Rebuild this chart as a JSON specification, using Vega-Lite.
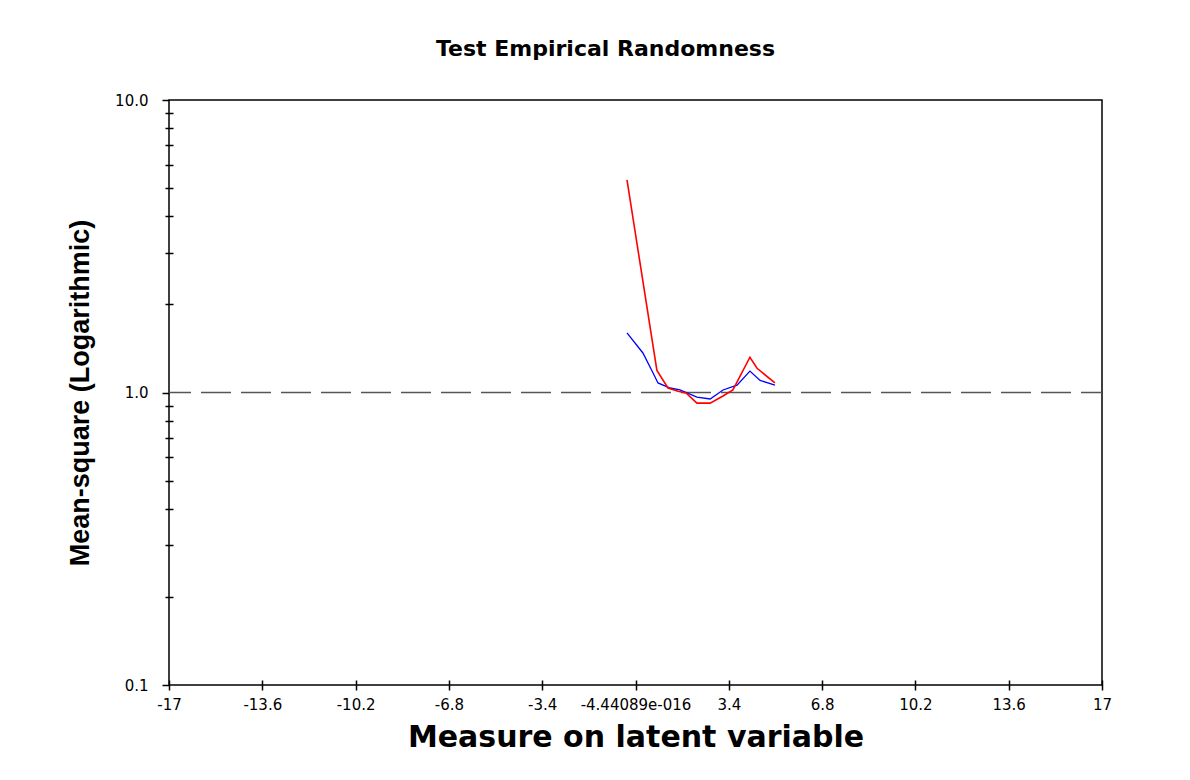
{
  "$schema": "https://vega.github.io/schema/vega-lite/v6.json",
  "width": 933,
  "height": 585,
  "autosize": {"type": "none"},
  "padding": {"left": 169, "top": 100, "right": 88, "bottom": 95},
  "background": "white",
  "title": {
    "text": "Test Empirical Randomness",
    "font": "DejaVu Sans",
    "fontSize": 22,
    "fontWeight": "bold",
    "color": "#000000",
    "anchor": "middle",
    "dx": -30,
    "offset": 15,
    "baseline": "alphabetic"
  },
  "config": {
    "view": {"stroke": "#000000", "strokeWidth": 1.5},
    "axis": {
      "labelFont": "DejaVu Sans",
      "labelFontSize": 15,
      "labelColor": "#000000",
      "tickColor": "#000000",
      "tickWidth": 1.5,
      "domain": false,
      "grid": false,
      "titleColor": "#000000",
      "labelOverlap": false,
      "labelBound": false,
      "labelFlush": false
    },
    "axisX": {
      "offset": -5,
      "tickSize": 10,
      "labelPadding": 7,
      "titleFont": "DejaVu Sans",
      "titleFontSize": 30,
      "titleFontWeight": "bold",
      "titlePadding": 10
    }
  },
  "datasets": {
    "ref": [{"ms": 1}],
    "curves": [
      {"series": "blue", "measure": -0.31, "ms": 1.60},
      {"series": "blue", "measure": 0.27, "ms": 1.365},
      {"series": "blue", "measure": 0.64, "ms": 1.166},
      {"series": "blue", "measure": 0.82, "ms": 1.078},
      {"series": "blue", "measure": 1.26, "ms": 1.036},
      {"series": "blue", "measure": 1.62, "ms": 1.02},
      {"series": "blue", "measure": 2.24, "ms": 0.965},
      {"series": "blue", "measure": 2.72, "ms": 0.95},
      {"series": "blue", "measure": 3.19, "ms": 1.02},
      {"series": "blue", "measure": 3.70, "ms": 1.06},
      {"series": "blue", "measure": 4.17, "ms": 1.184},
      {"series": "blue", "measure": 4.54, "ms": 1.10},
      {"series": "blue", "measure": 5.08, "ms": 1.06},
      {"series": "red", "measure": -0.31, "ms": 5.33},
      {"series": "red", "measure": 0.78, "ms": 1.19},
      {"series": "red", "measure": 1.185, "ms": 1.036},
      {"series": "red", "measure": 1.55, "ms": 1.01},
      {"series": "red", "measure": 1.84, "ms": 0.996},
      {"series": "red", "measure": 2.24, "ms": 0.92},
      {"series": "red", "measure": 2.72, "ms": 0.92},
      {"series": "red", "measure": 3.19, "ms": 0.973},
      {"series": "red", "measure": 3.55, "ms": 1.02},
      {"series": "red", "measure": 4.17, "ms": 1.32},
      {"series": "red", "measure": 4.43, "ms": 1.21},
      {"series": "red", "measure": 5.08, "ms": 1.078}
    ]
  },
  "layer": [
    {
      "data": {"name": "ref"},
      "mark": {"type": "rule", "stroke": "#555555", "strokeWidth": 1.5, "strokeDash": [30, 10], "strokeDashOffset": 9},
      "encoding": {
        "y": {
          "field": "ms",
          "type": "quantitative",
          "scale": {"type": "log", "domain": [0.1, 10], "nice": false},
          "axis": {
            "orient": "left",
            "values": [0.1, 1, 10],
            "labelExpr": "format(datum.value, '.1f')",
            "tickSize": 7,
            "labelPadding": 14,
            "title": "Mean-square (Logarithmic)",
            "titleFont": "Liberation Sans",
            "titleFontSize": 27,
            "titleFontWeight": "bold",
            "titlePadding": 20
          }
        }
      }
    },
    {
      "data": {"name": "curves"},
      "transform": [{"filter": "datum.series == 'blue'"}],
      "mark": {"type": "line", "stroke": "#0000ff", "strokeWidth": 1.3},
      "encoding": {
        "x": {
          "field": "measure",
          "type": "quantitative",
          "scale": {"domain": [-17, 17], "nice": false, "zero": false},
          "axis": {
            "values": [-17, -13.6, -10.2, -6.8, -3.4, 0, 3.4, 6.8, 10.2, 13.6, 17],
            "labelExpr": "datum.value == 0 ? '-4.44089e-016' : '' + datum.value",
            "title": "Measure on latent variable"
          }
        },
        "y": {
          "field": "ms",
          "type": "quantitative",
          "scale": {"type": "log", "domain": [0.1, 10], "nice": false},
          "axis": {
            "orient": "left",
            "values": [0.2, 0.3, 0.4, 0.5, 0.6, 0.7, 0.8, 0.9, 2, 3, 4, 5, 6, 7, 8, 9],
            "labels": false,
            "tickSize": 8,
            "offset": -4,
            "title": null
          }
        }
      }
    },
    {
      "data": {"name": "curves"},
      "transform": [{"filter": "datum.series == 'red'"}],
      "mark": {"type": "line", "stroke": "#ff0000", "strokeWidth": 1.6},
      "encoding": {
        "x": {
          "field": "measure",
          "type": "quantitative",
          "scale": {"domain": [-17, 17], "nice": false, "zero": false},
          "axis": {
            "values": [-17, -13.6, -10.2, -6.8, -3.4, 0, 3.4, 6.8, 10.2, 13.6, 17],
            "labelExpr": "datum.value == 0 ? '-4.44089e-016' : '' + datum.value",
            "title": "Measure on latent variable"
          }
        },
        "y": {
          "field": "ms",
          "type": "quantitative",
          "scale": {"type": "log", "domain": [0.1, 10], "nice": false},
          "axis": null
        }
      }
    }
  ],
  "resolve": {"axis": {"y": "independent"}}
}
